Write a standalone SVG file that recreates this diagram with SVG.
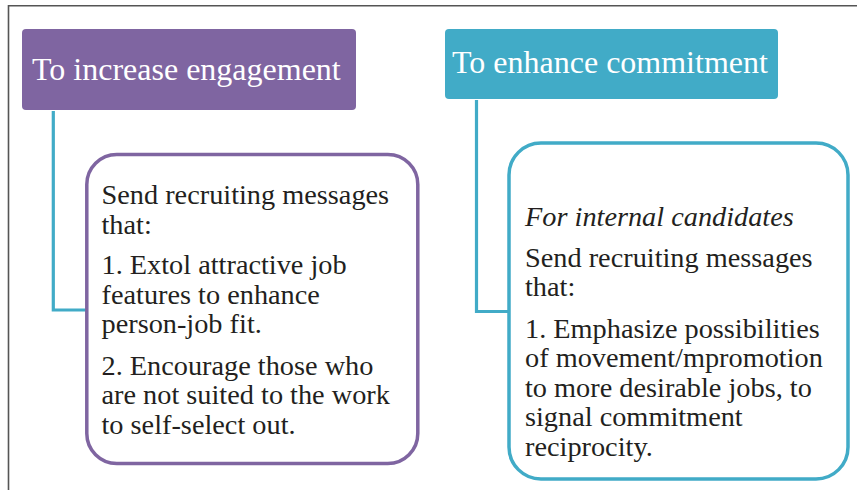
<svg xmlns="http://www.w3.org/2000/svg" width="857" height="490" viewBox="0 0 857 490">
  <style>
    .frame { fill: none; stroke: #555555; stroke-width: 1.6; }
    .head { font-family: "Liberation Serif", "Times New Roman", serif; font-size: 32px; fill: #ffffff; }
    .body { font-family: "Liberation Serif", "Times New Roman", serif; font-size: 28.3px; fill: #231f20; }
    .ital { font-style: italic; }
    .purple-fill { fill: #7f65a1; }
    .teal-fill { fill: #41abc7; }
    .card { fill: #ffffff; stroke-width: 3.5; }
    .purple-card { stroke: #7f65a1; }
    .teal-card { stroke: #41abc7; }
    .link { fill: none; stroke: #41abc7; stroke-width: 3.2; }
  </style>
  <rect width="857" height="490" fill="#ffffff"/>
  <!-- page frame: top and left rules only -->
  <path class="frame" d="M8.5,490 V5.7 H857"/>

  <!-- connectors from headers down into their cards -->
  <g id="connectors">
    <path class="link" d="M53.3,111 V310 H87"/>
    <path class="link" d="M476.5,100 V311.5 H509"/>
  </g>

  <g id="engagement-header">
    <rect class="purple-fill" x="22" y="29" width="334" height="81" rx="4"/>
    <text class="head" x="32" y="80">To increase engagement</text>
  </g>

  <g id="commitment-header">
    <rect class="teal-fill" x="445" y="29" width="333" height="70" rx="4"/>
    <text class="head" x="452" y="73.3">To enhance commitment</text>
  </g>

  <g id="engagement-card">
    <rect class="card purple-card" x="86.8" y="154.5" width="331" height="309" rx="30"/>
    <text class="body">
      <tspan x="101.5" y="204">Send recruiting messages</tspan>
      <tspan x="101.5" y="233.5">that:</tspan>
      <tspan x="101.5" y="274">1. Extol attractive job</tspan>
      <tspan x="101.5" y="303.5">features to enhance</tspan>
      <tspan x="101.5" y="333">person-job fit.</tspan>
      <tspan x="101.5" y="374.5">2. Encourage those who</tspan>
      <tspan x="101.5" y="404">are not suited to the work</tspan>
      <tspan x="101.5" y="433.5">to self-select out.</tspan>
    </text>
  </g>

  <g id="commitment-card">
    <rect class="card teal-card" x="509" y="143" width="339" height="336" rx="32"/>
    <text class="body">
      <tspan class="ital" x="525" y="226">For internal candidates</tspan>
      <tspan x="525" y="266.5">Send recruiting messages</tspan>
      <tspan x="525" y="296">that:</tspan>
      <tspan x="525" y="337.5">1. Emphasize possibilities</tspan>
      <tspan x="525" y="367">of movement/mpromotion</tspan>
      <tspan x="525" y="396.5">to more desirable jobs, to</tspan>
      <tspan x="525" y="426">signal commitment</tspan>
      <tspan x="525" y="455.5">reciprocity.</tspan>
    </text>
  </g>
</svg>
